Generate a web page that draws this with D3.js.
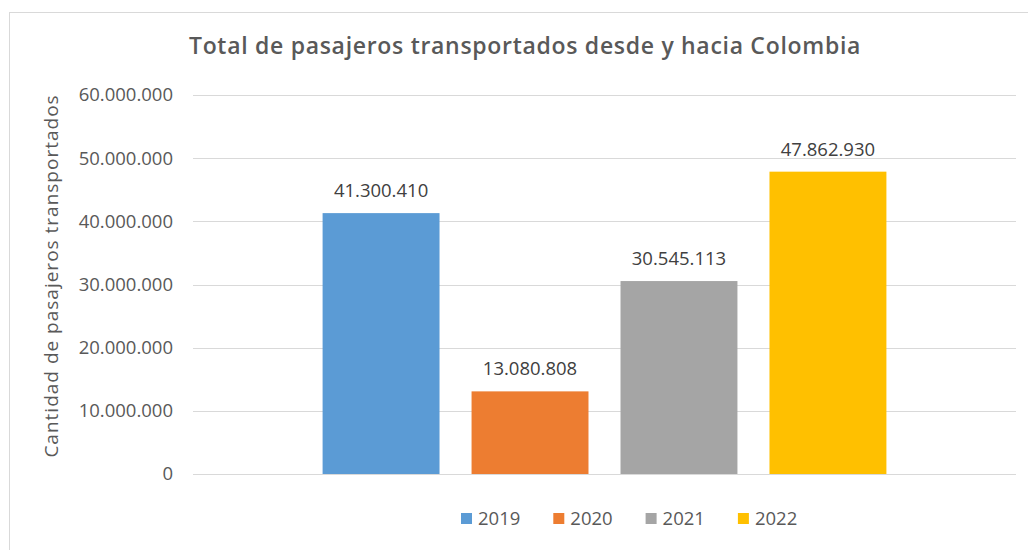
<!DOCTYPE html>
<html>
<head>
<meta charset="utf-8">
<script src="https://cdn.jsdelivr.net/npm/d3@7"></script>
<style>
  body { margin: 0; background: #fff; }
  text { font-family: "Open Sans", "Liberation Sans", sans-serif; }
</style>
</head>
<body>
<div id="chart"></div>
<script>
// data
var years = ["2019", "2020", "2021", "2022"];
var pasajeros = [41300410, 13080808, 30545113, 47862930];
var colors = ["#5B9BD5", "#ED7D31", "#A5A5A5", "#FFC000"];
var yTicks = [0, 10000000, 20000000, 30000000, 40000000, 50000000, 60000000];

var W = 1028, H = 550;
var margin = { top: 95, right: 12, bottom: 76, left: 193 },
    width = W - margin.left - margin.right,
    height = H - margin.top - margin.bottom;

var fmt = function (v) {
    return d3.format(",")(v).replace(/,/g, ".");
};

var svg = d3.select("#chart").append("svg")
    .attr("width", W)
    .attr("height", H);

// chart border
svg.append("rect")
    .attr("x", 9.5).attr("y", 12.5)
    .attr("width", W + 20).attr("height", H + 20)
    .attr("fill", "none")
    .attr("stroke", "#d9d9d9");

svg.append("text")
    .attr("x", 525)
    .attr("y", 54)
    .attr("text-anchor", "middle")
    .style("font-size", "23px")
    .style("font-weight", "600")
    .style("letter-spacing", "0.7px")
    .style("fill", "#595959")
    .text("Total de pasajeros transportados desde y hacia Colombia");

var g = svg.append("g")
    .attr("transform", "translate(" + margin.left + "," + margin.top + ")");

var x = d3.scaleBand()
    .domain(years)
    .range([0, width])
    .paddingInner(0.215)
    .paddingOuter(0.87);

var y = d3.scaleLinear()
    .domain([0, 60000000])
    .range([height, 0]);

// gridlines
g.selectAll(".grid")
    .data(yTicks)
    .enter().append("line")
    .attr("class", "grid")
    .attr("x1", 0)
    .attr("x2", width)
    .attr("y1", function (d) { return Math.round(y(d)) + 0.5; })
    .attr("y2", function (d) { return Math.round(y(d)) + 0.5; })
    .attr("stroke", "#d9d9d9")
    .attr("stroke-width", 1);

var yAxis = d3.axisLeft(y)
    .tickValues(yTicks)
    .tickFormat(fmt)
    .tickSize(0)
    .tickPadding(20);

g.append("g")
    .attr("class", "y axis")
    .call(yAxis)
    .call(function (s) { s.select(".domain").remove(); })
    .selectAll("text")
    .style("font-size", "18.5px")
    .style("fill", "#595959")
    .style("font-family", "\"Open Sans\", sans-serif");

svg.append("text")
    .attr("transform", "translate(58,276) rotate(-90)")
    .attr("text-anchor", "middle")
    .style("font-size", "19px")
    .style("letter-spacing", "1px")
    .style("fill", "#595959")
    .text("Cantidad de pasajeros transportados");

g.selectAll(".bar")
    .data(pasajeros)
    .enter().append("rect")
    .attr("class", "bar")
    .attr("x", function (d, i) { return x(years[i]); })
    .attr("width", x.bandwidth())
    .attr("y", function (d) { return y(d); })
    .attr("height", function (d) { return height - y(d); })
    .attr("fill", function (d, i) { return colors[i]; });

g.selectAll(".label")
    .data(pasajeros)
    .enter().append("text")
    .attr("class", "label")
    .attr("x", function (d, i) { return x(years[i]) + x.bandwidth() / 2; })
    .attr("y", function (d) { return y(d) - 16; })
    .attr("text-anchor", "middle")
    .style("font-size", "18.5px")
    .style("fill", "#404040")
    .text(fmt);

// legend
var legend = svg.append("g")
    .attr("transform", "translate(461,518)");

var item = legend.selectAll(".item")
    .data(years)
    .enter().append("g")
    .attr("class", "item")
    .attr("transform", function (d, i) { return "translate(" + (i * 92.3) + ",0)"; });

item.append("rect")
    .attr("x", 0).attr("y", -5)
    .attr("width", 11).attr("height", 11)
    .attr("fill", function (d, i) { return colors[i]; });

item.append("text")
    .attr("x", 17)
    .attr("y", 7)
    .style("font-size", "18.5px")
    .style("fill", "#595959")
    .text(function (d) { return d; });
</script>
</body>
</html>
